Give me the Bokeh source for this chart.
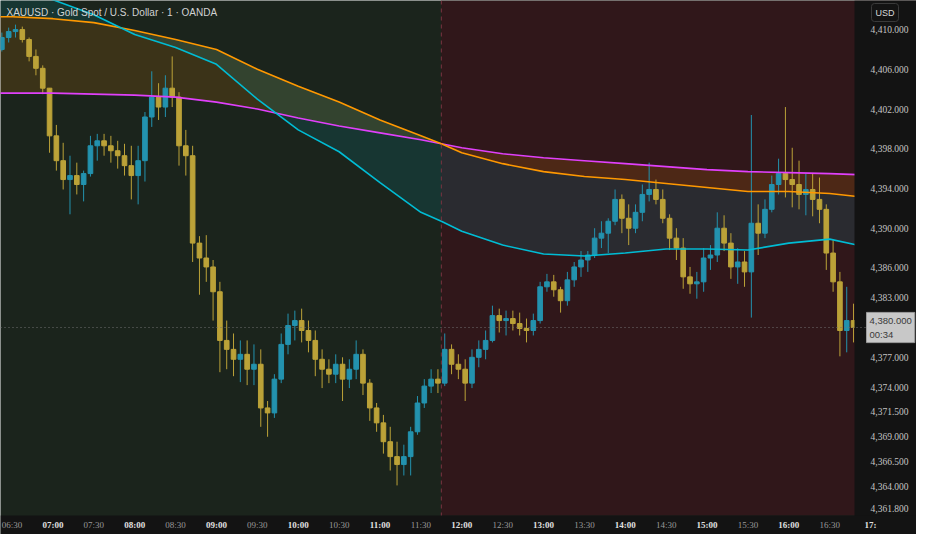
from bokeh.plotting import figure
from bokeh.models import (ColumnDataSource, BoxAnnotation, Span, Label, LabelSet, Range1d)
from bokeh.embed import file_html
from bokeh.resources import INLINE

# 5 minute bars, first bar opens 06:20
bar_start = 6 * 60 + 20
first_open = 4408.0
closes = [4409.2, 4409.8, 4410.0, 4409.0, 4407.3, 4406.1, 4404.1, 4399.3, 4396.8, 4394.9,
          4395.3, 4394.4, 4395.5, 4398.3, 4398.8, 4398.3, 4397.8, 4397.3, 4396.3, 4395.3,
          4396.8, 4401.2, 4403.2, 4402.2, 4404.1, 4403.2, 4398.3, 4397.3, 4388.5, 4387.0,
          4386.1, 4383.6, 4378.7, 4377.8, 4376.8, 4377.3, 4375.8, 4376.3, 4371.9, 4371.4,
          4374.8, 4378.3, 4380.2, 4380.7, 4379.7, 4378.7, 4376.8, 4375.8, 4375.3, 4376.3,
          4374.8, 4375.8, 4377.3, 4374.4, 4371.9, 4370.4, 4368.5, 4367.0, 4366.2, 4367.0,
          4369.5, 4372.4, 4374.1, 4374.8, 4374.4, 4377.8, 4376.3, 4375.8, 4374.4, 4377.0,
          4377.8, 4378.7, 4381.2, 4380.7, 4380.9, 4380.4, 4379.9, 4379.7, 4380.7, 4384.1,
          4384.6, 4383.8, 4382.7, 4384.8, 4386.1, 4386.8, 4387.3, 4389.0, 4389.5, 4390.7,
          4392.9, 4391.0, 4390.0, 4391.6, 4393.4, 4393.9, 4392.9, 4391.0, 4389.0, 4388.0,
          4385.1, 4384.4, 4384.6, 4387.0, 4387.3, 4390.0, 4388.5, 4386.1, 4386.6, 4385.6,
          4390.5, 4389.5, 4391.9, 4394.4, 4395.5, 4394.9, 4394.4, 4393.4, 4393.9, 4392.9,
          4391.9, 4387.5, 4384.6, 4379.7, 4380.7, 4380.0]
highs = [4409.7, 4410.2, 4410.5, 4410.3, 4409.2, 4408.0, 4406.4, 4404.1, 4400.4, 4398.6,
         4397.3, 4396.6, 4395.8, 4399.3, 4399.5, 4399.5, 4399.3, 4398.8, 4398.5, 4398.3,
         4398.3, 4401.7, 4405.8, 4404.6, 4405.4, 4407.3, 4403.7, 4399.9, 4398.3, 4389.2,
         4389.3, 4386.8, 4384.6, 4380.7, 4379.4, 4378.7, 4378.7, 4378.3, 4377.8, 4372.6,
         4375.3, 4379.4, 4381.4, 4381.7, 4381.9, 4380.7, 4379.7, 4377.8, 4376.8, 4377.3,
         4377.0, 4376.8, 4378.7, 4377.8, 4374.8, 4372.4, 4371.2, 4370.0, 4368.5, 4368.2,
         4370.0, 4373.1, 4374.8, 4375.8, 4375.8, 4379.4, 4378.3, 4377.3, 4376.8, 4377.8,
         4378.7, 4379.7, 4382.2, 4381.9, 4381.7, 4381.7, 4381.5, 4380.9, 4381.4, 4384.6,
         4385.4, 4385.3, 4384.1, 4385.6, 4386.6, 4387.7, 4387.7, 4390.0, 4390.7, 4391.0,
         4393.9, 4393.4, 4392.4, 4392.4, 4394.4, 4396.6, 4394.9, 4393.9, 4391.4, 4390.0,
         4389.0, 4386.1, 4385.6, 4388.0, 4388.3, 4391.6, 4391.3, 4389.5, 4388.0, 4387.7,
         4401.4, 4392.4, 4392.9, 4395.3, 4397.0, 4402.2, 4398.1, 4396.8, 4395.5, 4395.5,
         4395.1, 4392.4, 4388.8, 4385.6, 4384.1, 4382.4]
lows = [4407.8, 4408.7, 4409.2, 4408.7, 4406.8, 4405.4, 4403.5, 4397.6, 4395.8, 4393.9,
        4391.4, 4393.4, 4392.7, 4395.2, 4396.8, 4397.3, 4396.6, 4396.0, 4395.3, 4392.9,
        4392.4, 4394.7, 4400.2, 4400.9, 4401.2, 4402.2, 4396.3, 4395.3, 4386.6, 4383.3,
        4384.6, 4380.7, 4375.5, 4375.8, 4375.1, 4374.5, 4374.2, 4374.2, 4370.0, 4369.0,
        4370.9, 4374.4, 4377.3, 4378.7, 4378.5, 4377.5, 4375.1, 4373.9, 4374.4, 4374.4,
        4372.6, 4373.9, 4374.8, 4373.2, 4370.6, 4369.5, 4367.3, 4365.6, 4364.1, 4365.1,
        4365.1, 4369.2, 4371.9, 4373.4, 4373.4, 4374.1, 4375.3, 4374.8, 4372.6, 4373.9,
        4376.0, 4376.8, 4378.5, 4379.5, 4379.2, 4379.7, 4379.2, 4378.5, 4379.2, 4380.4,
        4383.6, 4383.1, 4381.5, 4382.2, 4384.1, 4385.1, 4385.6, 4387.0, 4388.0, 4387.5,
        4390.3, 4389.5, 4388.3, 4389.5, 4390.7, 4392.7, 4392.4, 4390.5, 4387.8, 4386.8,
        4383.9, 4383.4, 4382.9, 4383.6, 4385.8, 4386.6, 4387.7, 4384.9, 4384.4, 4384.1,
        4381.0, 4387.3, 4389.0, 4391.6, 4393.4, 4393.1, 4392.1, 4391.9, 4391.3, 4391.2,
        4390.5, 4385.8, 4383.6, 4377.1, 4377.5, 4378.5]

# moving averages (minutes after midnight)
ma_time = [380, 390, 420, 450, 480, 510, 540, 570, 600, 630, 660, 690,
           705, 720, 750, 780, 810, 840, 870, 900, 930, 960, 990, 1010]
ma_orange = [4411.3, 4411.3, 4411.1, 4410.7, 4409.9, 4409.0, 4408.0, 4406.0,
             4404.3, 4402.7, 4400.9, 4399.3, 4398.5, 4397.6, 4396.5, 4395.7,
             4395.2, 4394.9, 4394.5, 4394.1, 4393.7, 4393.7, 4393.5, 4393.2]
ma_magenta = [4403.6, 4403.6, 4403.6, 4403.5, 4403.4, 4403.2, 4402.7, 4402.0,
              4401.1, 4400.3, 4399.6, 4398.9, 4398.5, 4398.1, 4397.5, 4397.1,
              4396.8, 4396.5, 4396.2, 4395.9, 4395.7, 4395.6, 4395.5, 4395.4]
ma_cyan = [4414.5, 4414.1, 4413.0, 4411.5, 4409.5, 4408.2, 4406.5, 4403.0,
           4399.9, 4397.7, 4394.6, 4391.6, 4390.7, 4389.7, 4388.3, 4387.4,
           4387.2, 4387.5, 4387.9, 4387.9, 4387.8, 4388.5, 4388.9, 4388.3]

price_ticks = [4410, 4406, 4402, 4398, 4394, 4390, 4386, 4383, 4377,
               4374, 4371.5, 4369, 4366.5, 4364, 4361.8]
last_price = 4380.0
session_split = 705  # 11:45

half_hours = ["06:30", "07:30", "08:30", "09:30", "10:30", "11:30",
              "12:30", "13:30", "14:30", "15:30", "16:30"]
full_hours = ["07:00", "08:00", "09:00", "10:00", "11:00", "12:00",
              "13:00", "14:00", "15:00", "16:00", "17:"]

up_color = "#2392ae"
down_color = "#bba238"

opens = [first_open] + closes[:-1]
xs = [bar_start + 5 * i + 2.5 for i in range(len(closes))]
colors = [up_color if c >= o else down_color for o, c in zip(opens, closes)]
src = ColumnDataSource(dict(
    x=xs, high=highs, low=lows,
    top=[max(o, c) for o, c in zip(opens, closes)],
    bottom=[min(o, c) for o, c in zip(opens, closes)],
    color=colors))

# price area 854 x 515 px, plus a 62 px price column and a 19 px time strip
W, H = 916, 534
chart_w, chart_h = 854, 515
x_start, x_last = 381.5, 1008.2
y_low, y_high = 4361.07, 4412.93
x_end = x_last + (W - chart_w) * (x_last - x_start) / chart_w
y_start = y_low - (H - chart_h) * (y_high - y_low) / chart_h

p = figure(width=W, height=H,
           x_range=Range1d(x_start, x_end), y_range=Range1d(y_start, y_high),
           toolbar_location=None, output_backend="svg",
           background_fill_color="#1b241c", border_fill_color="#131313",
           min_border=0)
p.axis.visible = False
p.grid.visible = False
p.outline_line_color = None

p.add_layout(BoxAnnotation(left=session_split, bottom=y_low, fill_color="#30171a",
                           fill_alpha=1, line_color=None, level="underlay"))
p.add_layout(Span(location=session_split, dimension="height", line_color="#7a3340",
                  line_dash="4 4", line_width=1))

# band fills between the averages
p.varea(x=ma_time, y1=ma_orange, y2=ma_magenta, fill_color="#ff9800", fill_alpha=0.14)
p.varea(x=ma_time, y1=ma_cyan, y2=ma_orange, fill_color="#00bcd4", fill_alpha=0.12)

p.segment(x0="x", y0="high", x1="x", y1="low", line_color="color", line_width=1, source=src)
p.vbar(x="x", width=3.4, top="top", bottom="bottom", fill_color="color",
       line_color="color", source=src)

p.line(ma_time, ma_magenta, line_color="#e040fb", line_width=1.6)
p.line(ma_time, ma_orange, line_color="#ff9800", line_width=1.6)
p.line(ma_time, ma_cyan, line_color="#00bcd4", line_width=1.6)

# price column and time strip
p.add_layout(BoxAnnotation(left=x_last, fill_color="#131313", fill_alpha=1, line_color=None))
p.add_layout(BoxAnnotation(top=y_low, fill_color="#131313", fill_alpha=1, line_color=None))
p.add_layout(Span(location=last_price, dimension="width", line_color="#707070",
                  line_dash="1 3", line_width=1))

tick_src = ColumnDataSource(dict(y=price_ticks, label=[f"{v:,.3f}" for v in price_ticks]))
p.add_layout(LabelSet(x=x_last, y="y", x_offset=16, text="label", source=tick_src,
                      text_baseline="middle", text_font="Liberation Sans",
                      text_font_size="9.5px", text_color="#c4c4c4"))

p.add_layout(Label(x=6, y=H - 12, x_units="screen", y_units="screen",
                   text="XAUUSD · Gold Spot / U.S. Dollar · 1 · OANDA",
                   text_font="Liberation Sans", text_font_size="10px",
                   text_color="#d2d2d2", text_baseline="middle"))

strip_y = (H - chart_h) / 2
half_src = ColumnDataSource(dict(t=[390 + 60 * i for i in range(len(half_hours))], label=half_hours))
full_src = ColumnDataSource(dict(t=[420 + 60 * i for i in range(len(full_hours))], label=full_hours))
p.add_layout(LabelSet(x="t", y=strip_y, y_units="screen", text="label", source=half_src,
                      text_align="center", text_baseline="middle", text_font="Noto Sans",
                      text_font_size="9px", text_color="#9a9a9a"))
p.add_layout(LabelSet(x="t", y=strip_y, y_units="screen", text="label", source=full_src,
                      text_align="center", text_baseline="middle", text_font="Noto Sans",
                      text_font_size="9px", text_font_style="bold", text_color="#e0e0e0"))

p.add_layout(Label(x=x_last, y=last_price, x_offset=12, text="4,380.000\n00:34",
                   text_font="Liberation Sans", text_font_size="9.5px", text_color="#3a3a3a",
                   text_baseline="middle", background_fill_color="#c8c8c8",
                   border_line_color="#9c9c9c", padding=3))
p.add_layout(Label(x=chart_w + 17, y=H - 12, x_units="screen", y_units="screen", text="USD",
                   text_font="Liberation Sans", text_font_size="9px", text_color="#d8d8d8",
                   text_baseline="middle", border_line_color="#3a3a3a", padding=4,
                   border_radius=3))

open("out.html", "w").write(file_html(p, INLINE))
